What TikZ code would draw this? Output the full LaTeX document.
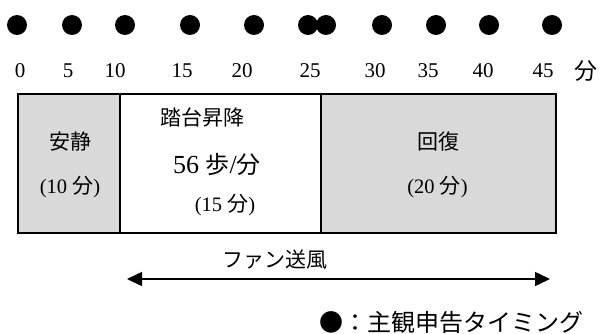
\documentclass[tikz,border=0pt]{standalone}
\usepackage{fontspec}
\setmainfont{Liberation Serif}
\newfontfamily\jp{Noto Sans CJK JP}
\usetikzlibrary{arrows.meta}
\newcommand{\jj}[1]{{\jp\fontsize{21}{21}\selectfont #1}}
\begin{document}
\begin{tikzpicture}[x=1pt,y=-1pt,
  dot/.style={circle,fill=black,inner sep=0pt,minimum size=20pt},
  tick/.style={font=\fontsize{21}{21}\selectfont,inner sep=0pt},
  phase/.style={draw=black,line width=2.2pt,inner sep=0pt},
  lbl/.style={font=\fontsize{20.5}{20.5}\selectfont,inner sep=0pt}]
\useasboundingbox (0,0) rectangle (607,334);
% timing dots
\foreach \x [count=\i] in {17,72,125,190,254,308,326,382,436,489,552}
  \node[dot] (d\i) at (\x,25) {};
% time labels
\foreach \x/\t [count=\i] in {20/0,68/5,115/10,182/15,242/20,310/25,375/30,428/35,483/40,543/45}
  \node[tick] (t\i) at (\x,71) {\t};
\node[tick,font=\jp\fontsize{23}{23}\selectfont] (unit) at (586,71) {分};
% phases
\node[phase,fill=gray!30,minimum width=102pt,minimum height=139pt] (rest) at (69,163.5) {};
\node[phase,fill=white,minimum width=201pt,minimum height=139pt] (step) at (220.5,163.5) {};
\node[phase,fill=gray!30,minimum width=235pt,minimum height=139pt] (rec) at (438.5,163.5) {};
% texts
\node[lbl] (restA) at (70,142) {\jj{安静}};
\node[lbl] (restB) at (70,187) {(10 \jj{分})};
\node[lbl] (stepA) at (202,117) {\jj{踏台昇降}};
\node[lbl,font=\fontsize{26}{26}\selectfont] (stepB) at (217,164) {56 {\jp\fontsize{24}{24}\selectfont 歩}/{\jp\fontsize{24}{24}\selectfont 分}};
\node[lbl] (stepC) at (225,205) {(15 \jj{分})};
\node[lbl] (recA) at (438,142) {\jj{回復}};
\node[lbl] (recB) at (437.5,187) {(20 \jj{分})};
% fan
\node[lbl] (fan) at (275,260) {\jj{ファン送風}};
\coordinate (fa) at (127,279);
\coordinate (fb) at (550,279);
\draw[line width=1.5pt,{Triangle[length=15pt,width=14pt]}-{Triangle[length=15pt,width=14pt]}] (fa) -- (fb);
% legend
\node[lbl,anchor=east] (leg) at (584,322) {{\jp\fontsize{24}{24}\selectfont ●：主観申告タイミング}};
\end{tikzpicture}
\end{document}
